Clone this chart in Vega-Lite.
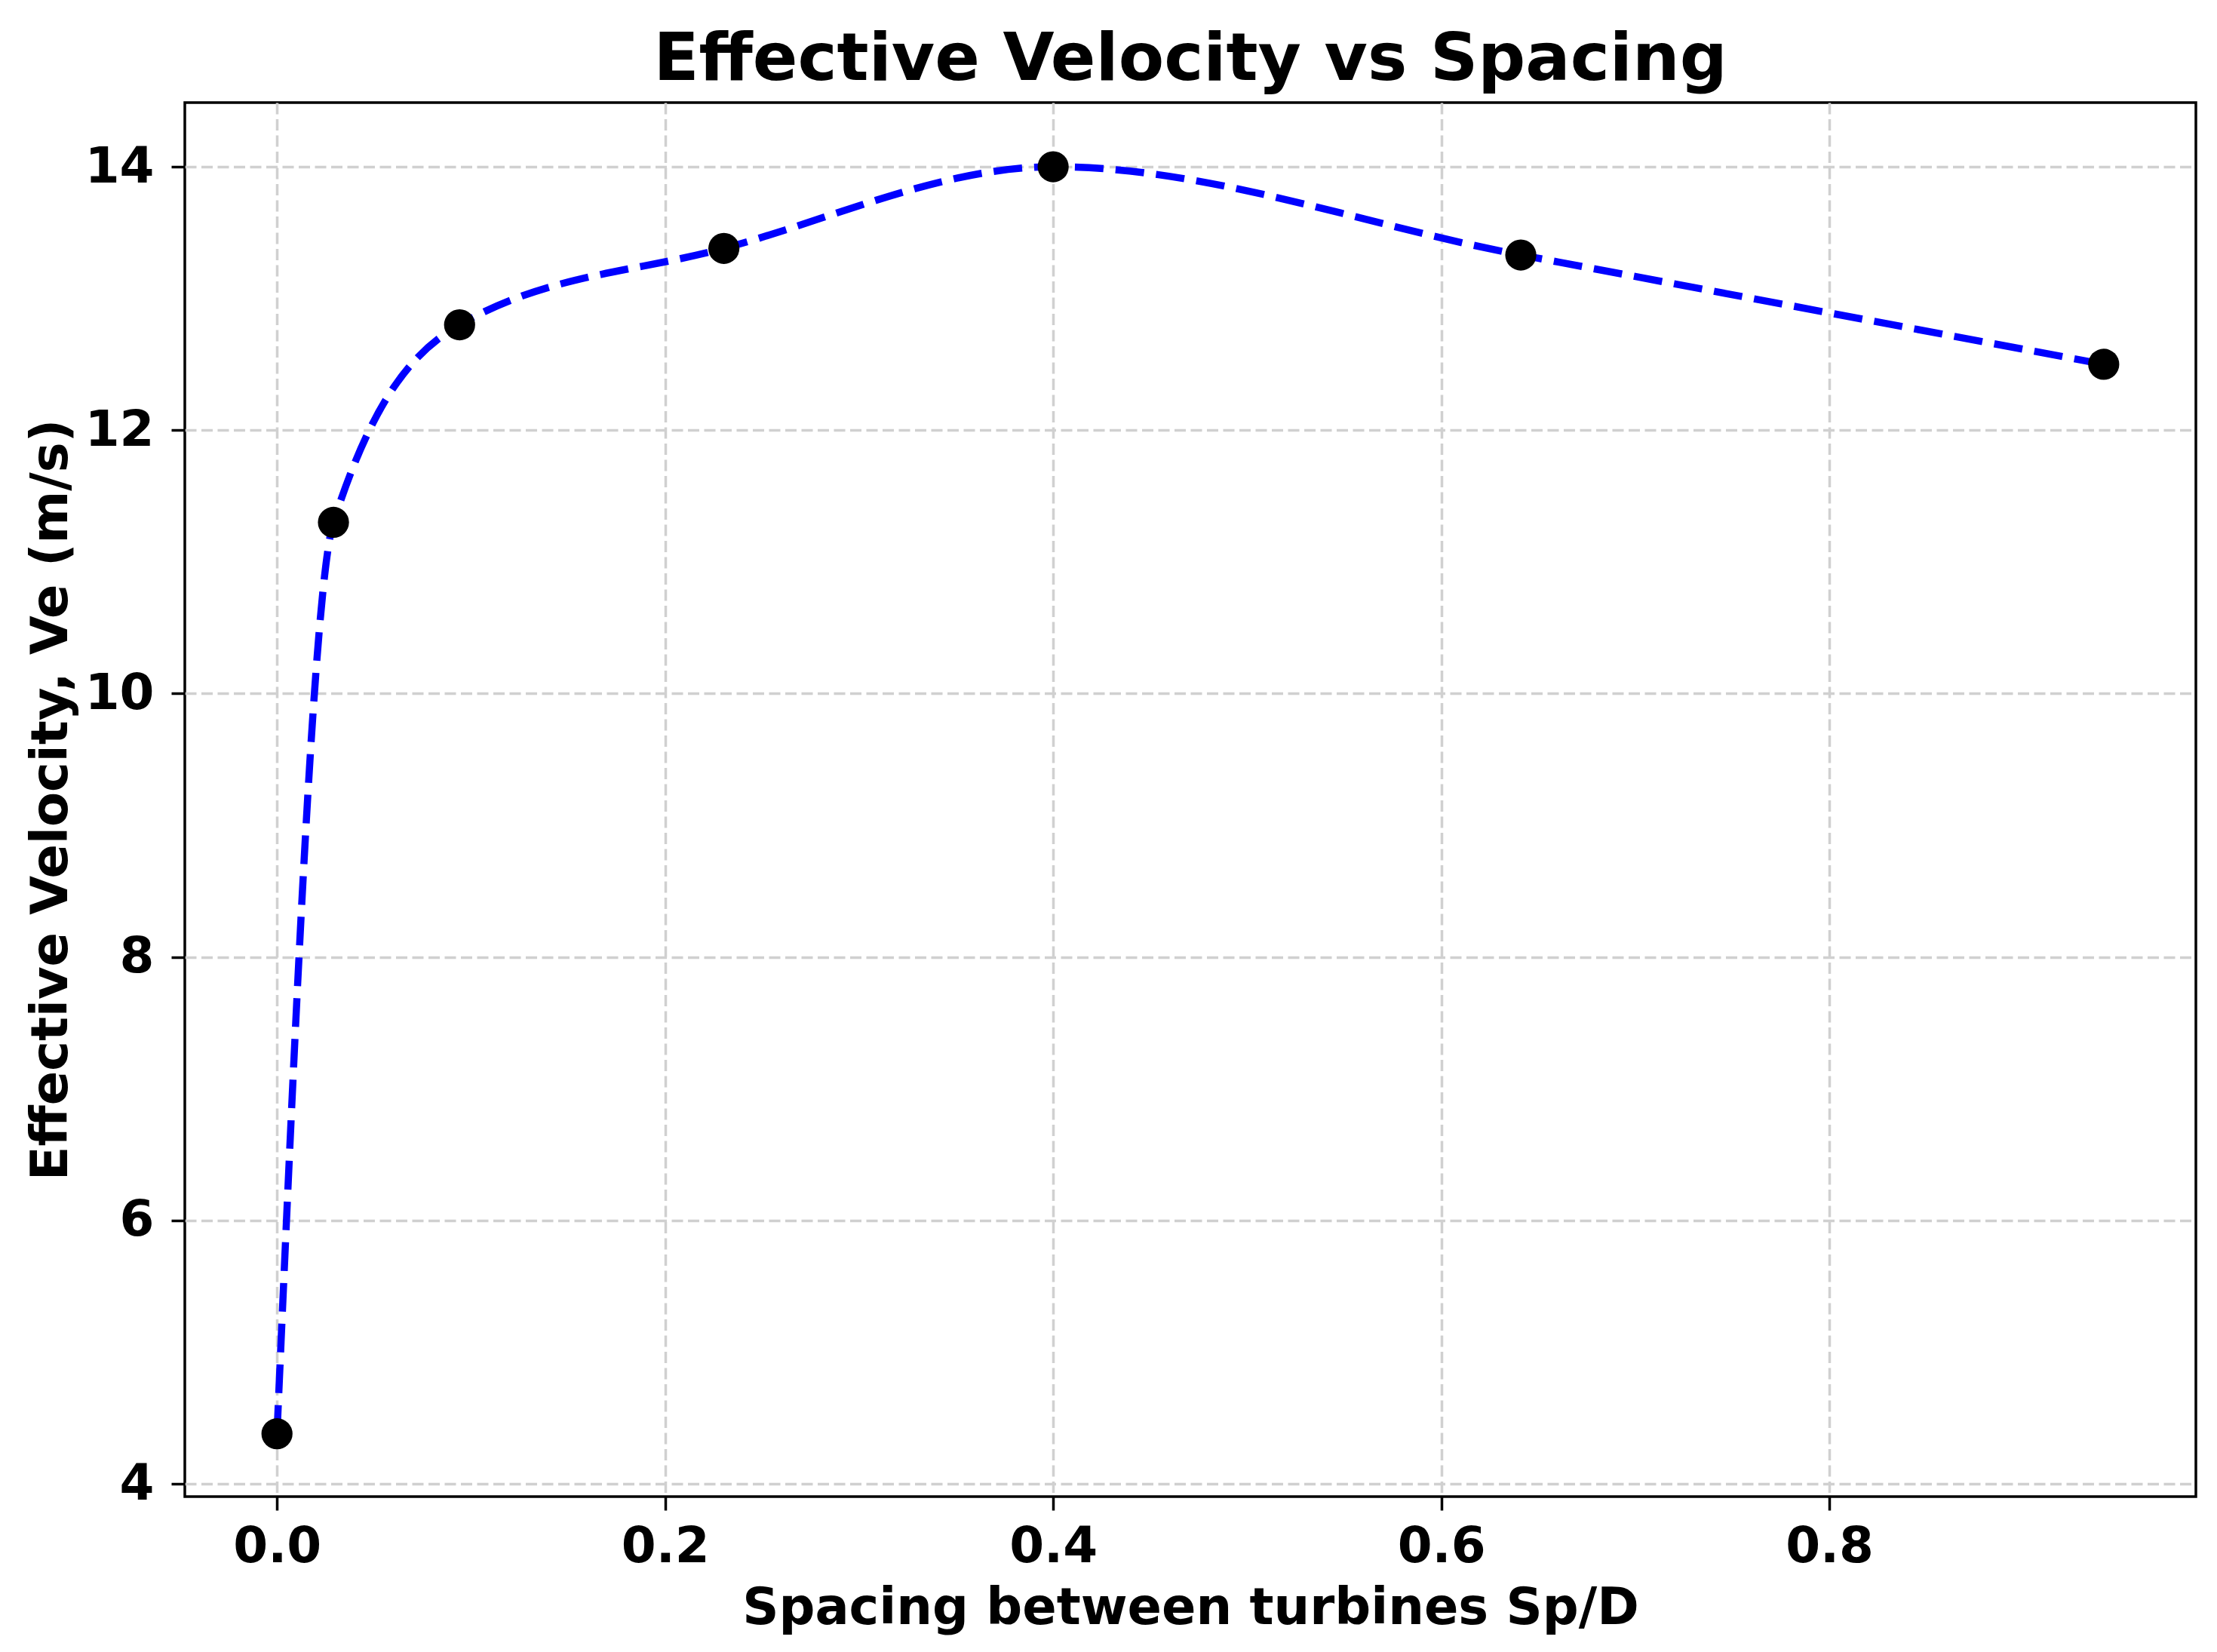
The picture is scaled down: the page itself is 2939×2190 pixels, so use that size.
{
  "$schema": "https://vega.github.io/schema/vega-lite/v6.json",
  "description": "Effective velocity against turbine spacing",
  "autosize": {"type": "none"},
  "padding": {"left": 245, "top": 136, "right": 28, "bottom": 206},
  "width": 2666,
  "height": 1848,
  "background": "white",
  "config": {
    "font": "DejaVu Sans",
    "view": {"stroke": "black", "strokeWidth": 3.5},
    "axis": {
      "domain": false,
      "grid": true,
      "gridColor": "#d0d0d0",
      "gridWidth": 3.5,
      "gridDash": [15, 6.5],
      "tickColor": "black",
      "tickWidth": 3.5,
      "tickSize": 18,
      "labelFont": "DejaVu Sans",
      "labelFontWeight": "bold",
      "labelFontSize": 66,
      "labelColor": "black",
      "titleFont": "DejaVu Sans",
      "titleFontWeight": "bold",
      "titleFontSize": 67,
      "titleColor": "black",
      "titleBaseline": "alphabetic"
    }
  },
  "title": {
    "text": "Effective Velocity vs Spacing",
    "font": "DejaVu Sans",
    "fontSize": 88,
    "fontWeight": "bold",
    "color": "black",
    "anchor": "middle",
    "frame": "group",
    "baseline": "alphabetic",
    "offset": 29,
    "dy": 87
  },
  "data": {
    "values": [
      {"spacing": 0.0, "ve": 4.38},
      {"spacing": 0.0291, "ve": 11.30},
      {"spacing": 0.0941, "ve": 12.80},
      {"spacing": 0.2303, "ve": 13.38},
      {"spacing": 0.4, "ve": 14.0},
      {"spacing": 0.641, "ve": 13.33},
      {"spacing": 0.9414, "ve": 12.50}
    ]
  },
  "encoding": {
    "x": {
      "field": "spacing",
      "type": "quantitative",
      "title": "Spacing between turbines Sp/D",
      "scale": {"domain": [-0.0475, 0.9889], "nice": false, "zero": false},
      "axis": {"values": [0, 0.2, 0.4, 0.6, 0.8], "format": ".1f", "labelPadding": 16, "titleX": 1333, "titleY": 168}
    },
    "y": {
      "field": "ve",
      "type": "quantitative",
      "title": "Effective Velocity, Ve (m/s)",
      "scale": {"domain": [3.903, 14.487], "nice": false, "zero": false},
      "axis": {"values": [4, 6, 8, 10, 12, 14], "format": "d", "labelPadding": 23, "titleX": -157, "titleY": 924}
    }
  },
  "layer": [
    {
      "mark": {"type": "line", "color": "blue", "strokeWidth": 9.5, "strokeDash": [38, 16], "interpolate": "monotone"}
    },
    {
      "mark": {"type": "circle", "color": "black", "opacity": 1, "size": 1700}
    }
  ]
}
